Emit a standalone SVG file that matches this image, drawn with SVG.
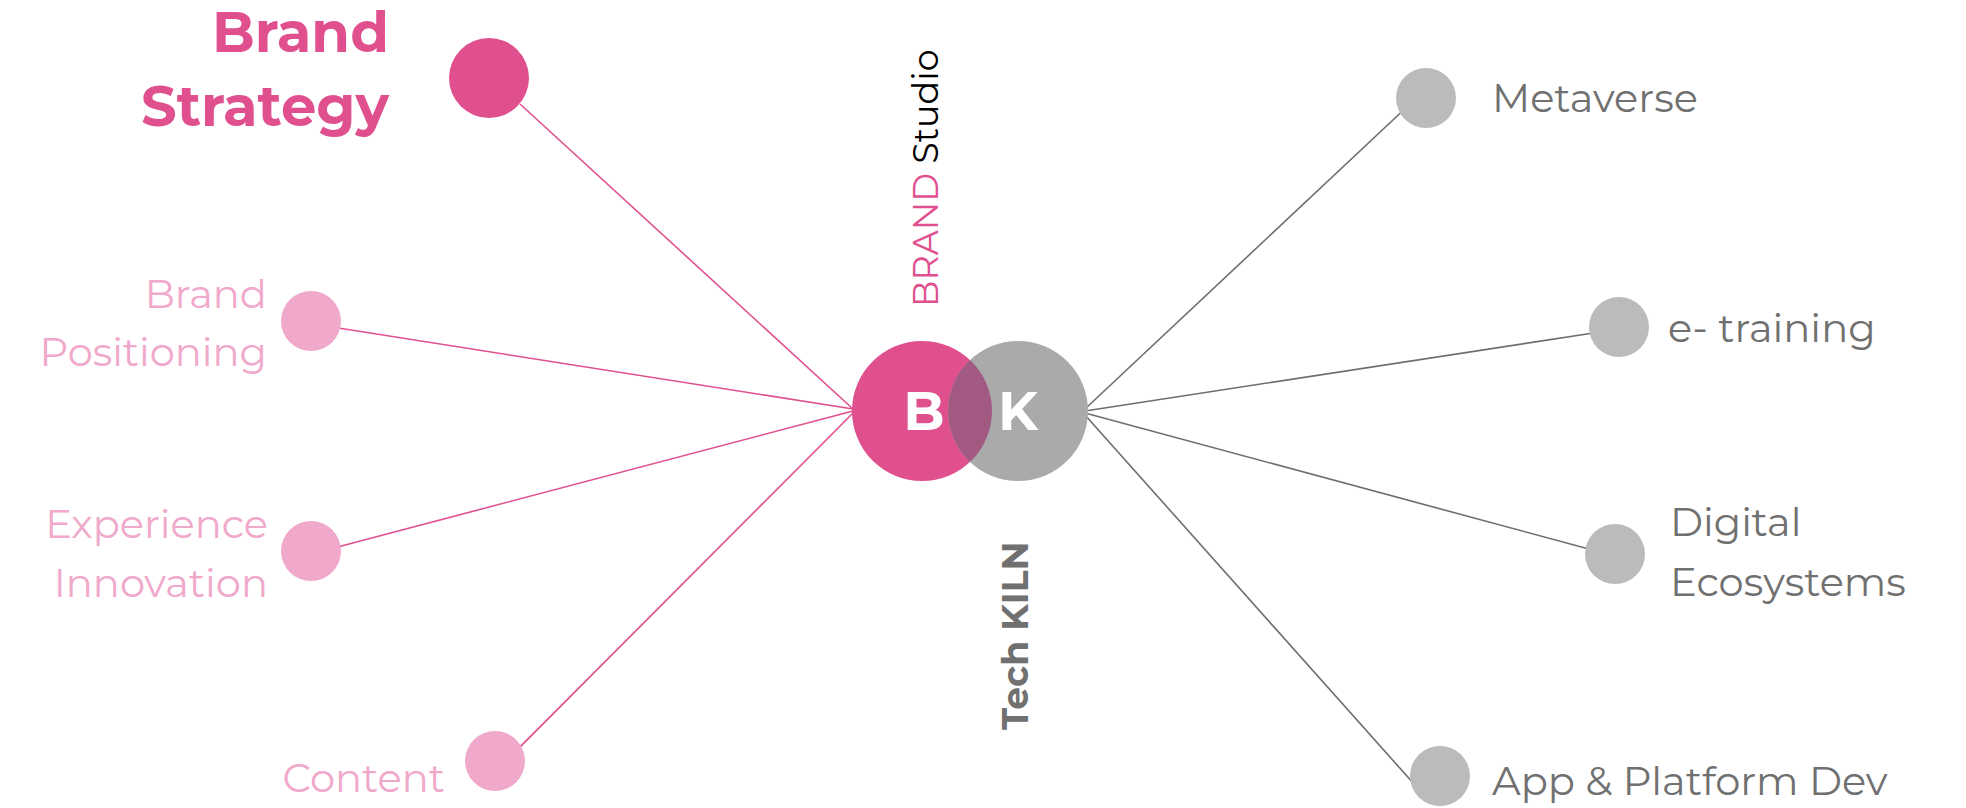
<svg xmlns="http://www.w3.org/2000/svg" width="1966" height="808" viewBox="0 0 1966 808">
<style>
text{font-family:Montserrat,"Noto Sans","Liberation Sans",sans-serif}
.pk{stroke:#e0508f;stroke-width:1.6;fill:none}
.gy{stroke:#6e6e6e;stroke-width:1.6;fill:none}
.lp{fill:#f0a8cb;font-size:40px}
.lg{fill:#707070;font-size:40px}
</style>
<defs><clipPath id="cb"><circle cx="922" cy="411" r="70"/></clipPath></defs>
<g id="connectors">
<line class="pk" x1="853" y1="409" x2="520" y2="104"/>
<line class="pk" x1="853" y1="409" x2="332" y2="327"/>
<line class="pk" x1="853" y1="411" x2="330" y2="549"/>
<line class="pk" x1="853" y1="413" x2="507" y2="760"/>
<line class="gy" x1="1085" y1="409" x2="1410" y2="104"/>
<line class="gy" x1="1085" y1="411" x2="1600" y2="332"/>
<line class="gy" x1="1085" y1="413" x2="1600" y2="552"/>
<line class="gy" x1="1085" y1="415" x2="1431" y2="803"/>
</g>
<g id="center">
<circle cx="922" cy="411" r="70" fill="#e0508f"/>
<circle cx="1018" cy="411" r="70" fill="#aaaaaa"/>
<circle cx="1018" cy="411" r="70" fill="#a35a82" clip-path="url(#cb)"/>
<text x="924" y="430" fill="#fff" font-size="54" font-weight="700" text-anchor="middle">B</text>
<text x="1018" y="430" fill="#fff" font-size="54" font-weight="700" text-anchor="middle">K</text>
<text transform="translate(938,307) rotate(-90)" font-size="35"><tspan fill="#e0508f">BRAND</tspan><tspan fill="#000"> Studio</tspan></text>
<text transform="translate(1028,730) rotate(-90)" font-size="36" font-weight="700" fill="#707070">Tech KILN</text>
</g>
<g id="brand-strategy">
<circle cx="489" cy="78" r="40" fill="#e0508f"/>
<text x="389" y="52" fill="#e0508f" font-size="56" font-weight="700" text-anchor="end">Brand</text>
<text x="389" y="126" fill="#e0508f" font-size="56" font-weight="700" text-anchor="end">Strategy</text>
</g>
<g id="brand-positioning">
<circle cx="311" cy="321" r="30" fill="#f0a8cb"/>
<text class="lp" x="267" y="308" text-anchor="end">Brand</text>
<text class="lp" x="267" y="366" text-anchor="end">Positioning</text>
</g>
<g id="experience-innovation">
<circle cx="311" cy="551" r="30" fill="#f0a8cb"/>
<text class="lp" x="268" y="538" text-anchor="end">Experience</text>
<text class="lp" x="268" y="597" text-anchor="end">Innovation</text>
</g>
<g id="content">
<circle cx="495" cy="761" r="30" fill="#f0a8cb"/>
<text class="lp" x="445" y="792" text-anchor="end">Content</text>
</g>
<g id="metaverse">
<circle cx="1426" cy="98" r="30" fill="#bbbbbb"/>
<text class="lg" x="1492" y="112">Metaverse</text>
</g>
<g id="e-training">
<circle cx="1619" cy="327" r="30" fill="#bbbbbb"/>
<text class="lg" x="1668" y="342">e- training</text>
</g>
<g id="digital-ecosystems">
<circle cx="1615" cy="554" r="30" fill="#bbbbbb"/>
<text class="lg" x="1670" y="536">Digital</text>
<text class="lg" x="1670" y="596">Ecosystems</text>
</g>
<g id="app-platform">
<circle cx="1440" cy="776" r="30" fill="#bbbbbb"/>
<text class="lg" x="1492" y="795">App &amp; Platform Dev</text>
</g>
</svg>
